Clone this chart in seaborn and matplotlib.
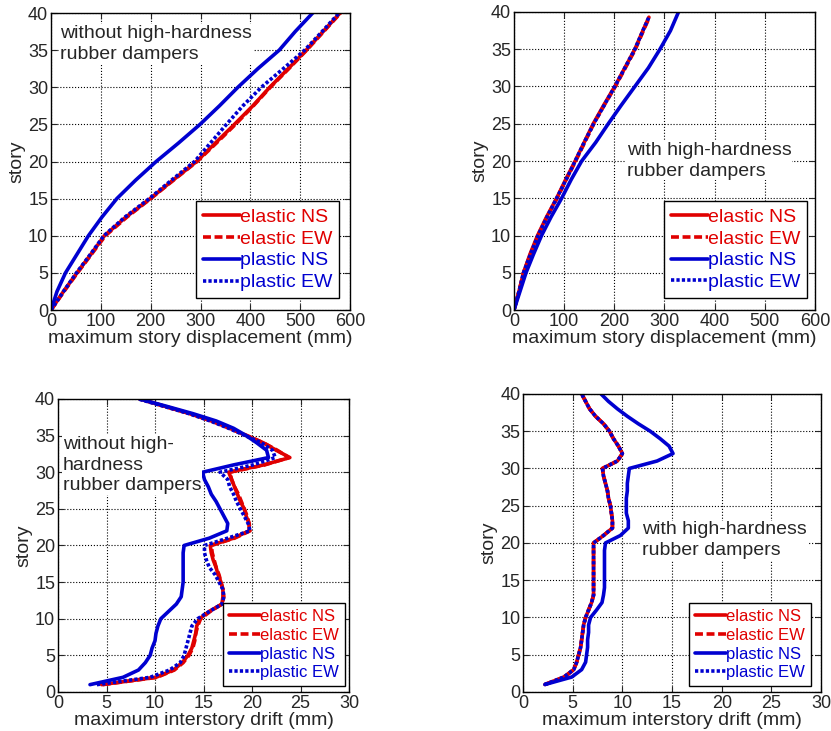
import numpy as np
import pandas as pd
import matplotlib
matplotlib.use("Agg")
import matplotlib.pyplot as plt
import seaborn as sns

sns.set_style("ticks")
plt.rcParams['font.family'] = ['Liberation Sans', 'DejaVu Sans']

# ---- maximum story displacement (mm) ----
disp_story = [0, 2.5, 5, 7.5, 10, 12.5, 15, 17.5, 20, 22.5, 25, 27.5, 30, 32.5, 35, 37.5, 40]

# without dampers
wo_disp_el_ns = [0, 25, 52, 80, 107, 150, 199, 245, 292, 330, 368, 405, 439, 476, 512, 546, 580]
wo_disp_el_ew = [0, 26, 53, 81, 109, 152, 200, 246, 293, 332, 370, 406, 440, 477, 513, 547, 581]
wo_disp_pl_ns = [0, 12, 29, 52, 75, 102, 132, 170, 211, 256, 299, 338, 375, 415, 458, 490, 525]
wo_disp_pl_ew = [0, 25, 51, 79, 106, 148, 197, 242, 288, 320, 352, 385, 422, 466, 509, 544, 578]

# with dampers (elastic / EW curves stop just below story 40)
w_disp_story_el = [0, 2.5, 5, 7.5, 10, 12.5, 15, 17.5, 20, 22.5, 25, 27.5, 30, 32.5, 35, 37.5, 39.3]
w_disp_el_ns = [0, 10, 19, 32, 47, 65, 85, 103, 122, 140, 158, 179, 201, 221, 241, 257, 269]
w_disp_el_ew = [0, 10, 19, 33, 48, 66, 86, 104, 123, 141, 159, 180, 202, 222, 242, 258, 270]
w_disp_pl_ns = [0, 12, 24, 39, 55, 74, 95, 114, 135, 163, 188, 214, 241, 268, 291, 312, 328]
w_disp_pl_ew = [0, 10, 19, 33, 48, 66, 85, 104, 122, 140, 159, 180, 201, 221, 241, 257, 269]

# ---- maximum interstory drift (mm) ----
drift_story = list(range(1, 41))

wo_drift_el_ns = [4.5, 10.1, 11.9, 12.8, 13.4, 13.8, 14.0, 14.2, 14.3, 14.6,
                  15.6, 16.9, 17.0, 17.0, 16.8, 16.5, 16.3, 16.0, 15.8, 15.7,
                  18.1, 19.7, 19.7, 19.4, 19.2, 18.8, 18.5, 18.2, 17.9, 17.6,
                  21.2, 23.9, 22.5, 21.2, 19.4, 17.7, 15.8, 13.6, 11.0, 8.4]
wo_drift_el_ew = [4.6, 10.2, 12.0, 12.9, 13.5, 13.9, 14.1, 14.2, 14.4, 14.7,
                  15.7, 16.9, 17.1, 17.0, 16.8, 16.6, 16.3, 16.1, 15.9, 15.8,
                  18.2, 19.8, 19.7, 19.5, 19.2, 18.9, 18.6, 18.2, 17.9, 17.7,
                  21.3, 23.8, 22.6, 21.2, 19.5, 17.7, 15.9, 13.6, 11.0, 8.5]
wo_drift_pl_ns = [3.3, 6.7, 8.3, 9.0, 9.5, 9.7, 10.0, 10.1, 10.3, 10.6,
                  11.4, 12.2, 12.7, 12.8, 12.9, 12.9, 12.9, 12.9, 12.9, 13.0,
                  15.6, 17.4, 17.5, 17.1, 16.7, 16.3, 15.8, 15.5, 15.1, 14.9,
                  18.1, 21.7, 21.5, 20.5, 19.4, 18.1, 16.3, 13.9, 11.2, 8.4]
wo_drift_pl_ew = [4.0, 9.5, 11.5, 12.6, 13.0, 13.2, 13.4, 13.6, 13.8, 14.4,
                  15.6, 16.9, 17.1, 17.0, 16.6, 16.2, 15.6, 15.3, 15.1, 15.1,
                  17.5, 19.8, 19.6, 19.2, 18.8, 18.4, 18.1, 17.7, 17.5, 16.7,
                  20.1, 22.4, 22.1, 21.0, 19.3, 17.6, 15.7, 13.5, 10.9, 8.3]

w_drift_el_ns = [2.2, 4.1, 5.1, 5.4, 5.6, 5.8, 5.9, 6.0, 6.1, 6.3,
                 6.6, 6.9, 7.1, 7.1, 7.1, 7.1, 7.1, 7.1, 7.1, 7.1,
                 8.1, 9.0, 9.0, 8.9, 8.8, 8.6, 8.5, 8.3, 8.1, 8.0,
                 9.5, 10.0, 9.6, 9.1, 8.7, 8.1, 7.3, 6.7, 6.3, 5.9]
w_drift_el_ew = [2.2, 4.2, 5.1, 5.4, 5.6, 5.8, 5.9, 6.0, 6.1, 6.3,
                 6.6, 6.9, 7.1, 7.1, 7.1, 7.1, 7.1, 7.1, 7.1, 7.1,
                 8.1, 9.0, 9.0, 8.9, 8.8, 8.6, 8.5, 8.3, 8.1, 8.0,
                 9.5, 10.0, 9.6, 9.1, 8.7, 8.1, 7.3, 6.7, 6.3, 5.9]
w_drift_pl_ns = [2.2, 4.9, 5.9, 6.3, 6.4, 6.5, 6.5, 6.6, 6.6, 6.8,
                 7.4, 7.95, 8.1, 8.2, 8.2, 8.2, 8.2, 8.2, 8.2, 8.3,
                 9.8, 10.6, 10.6, 10.4, 10.4, 10.4, 10.5, 10.5, 10.6, 10.7,
                 13.5, 15.1, 14.7, 13.8, 12.8, 11.6, 10.5, 9.5, 8.6, 7.85]
w_drift_pl_ew = [2.2, 4.1, 5.1, 5.4, 5.6, 5.8, 5.9, 6.0, 6.1, 6.3,
                 6.6, 6.9, 7.1, 7.1, 7.1, 7.1, 7.1, 7.1, 7.1, 7.1,
                 8.1, 9.0, 9.0, 8.9, 8.8, 8.6, 8.5, 8.3, 8.1, 8.0,
                 9.5, 10.0, 9.6, 9.1, 8.7, 8.1, 7.3, 6.7, 6.3, 5.9]

series_labels = ["elastic NS", "elastic EW", "plastic NS", "plastic EW"]
RED = "#e00000"
BLUE = "#0000d0"
styles = [dict(color=RED, ls="-"), dict(color=RED, ls=(0, (2.2, 1.0))),
          dict(color=BLUE, ls="-"), dict(color=BLUE, ls=(0, (0.9, 0.6)))]

fig = plt.figure(figsize=(8.31, 7.31), dpi=100)
positions = [
    [0.0614, 0.5759, 0.3598, 0.4063],
    [0.6185, 0.5759, 0.3622, 0.4077],
    [0.0698, 0.0534, 0.3502, 0.4008],
    [0.6294, 0.0534, 0.3586, 0.4077],
]

panels = [
    dict(xs=[wo_disp_el_ns, wo_disp_el_ew, wo_disp_pl_ns, wo_disp_pl_ew],
         ys=[disp_story] * 4, xlim=600, xstep=100,
         xlabel="maximum story displacement (mm)",
         note="without high-hardness\nrubber dampers", note_xy=(0.03, 0.96),
         leg=(0.963, 0.04), leg_fs=14),
    dict(xs=[w_disp_el_ns, w_disp_el_ew, w_disp_pl_ns, w_disp_pl_ew],
         ys=[w_disp_story_el, w_disp_story_el, disp_story, w_disp_story_el],
         xlim=600, xstep=100,
         xlabel="maximum story displacement (mm)",
         note="with high-hardness\nrubber dampers", note_xy=(0.375, 0.565),
         leg=(0.973, 0.04), leg_fs=14),
    dict(xs=[wo_drift_el_ns, wo_drift_el_ew, wo_drift_pl_ns, wo_drift_pl_ew],
         ys=[drift_story] * 4, xlim=30, xstep=5,
         xlabel="maximum interstory drift (mm)",
         note="without high-\nhardness\nrubber dampers", note_xy=(0.017, 0.875),
         leg=(0.986, 0.02), leg_fs=12),
    dict(xs=[w_drift_el_ns, w_drift_el_ew, w_drift_pl_ns, w_drift_pl_ew],
         ys=[drift_story] * 4, xlim=30, xstep=5,
         xlabel="maximum interstory drift (mm)",
         note="with high-hardness\nrubber dampers", note_xy=(0.40, 0.572),
         leg=(0.966, 0.02), leg_fs=12),
]

for pos, p in zip(positions, panels):
    ax = fig.add_axes(pos)
    for lab, x, y, st in zip(series_labels, p["xs"], p["ys"], styles):
        df = pd.DataFrame({"x": x, "story": y})
        sns.lineplot(data=df, x="x", y="story", sort=False, estimator=None,
                     color=st["color"], linestyle=st["ls"], linewidth=2.6,
                     label=lab, ax=ax)
    ax.set_xlim(0, p["xlim"])
    ax.set_ylim(0, 40)
    ax.set_xticks(np.arange(0, p["xlim"] + 1, p["xstep"]))
    ax.set_yticks(np.arange(0, 41, 5))
    ax.grid(True, color="black", linestyle=":", linewidth=0.8)
    ax.tick_params(direction="in", top=True, right=True, labelsize=13,
                   length=4, pad=2)
    for s in ax.spines.values():
        s.set_visible(True)
        s.set_linewidth(1.0)
        s.set_color("black")
    ax.set_xlabel(p["xlabel"], fontsize=14, labelpad=0)
    ax.set_ylabel("story", fontsize=14, labelpad=2)
    ax.text(p["note_xy"][0], p["note_xy"][1], p["note"], transform=ax.transAxes,
            fontsize=14, va="top", ha="left", linespacing=1.3,
            bbox=dict(facecolor="white", edgecolor="none", pad=0.5))
    leg = ax.legend(loc="lower right", bbox_to_anchor=p["leg"],
                    fontsize=p["leg_fs"], frameon=True, fancybox=False,
                    edgecolor="black", framealpha=1, borderaxespad=0,
                    handlelength=1.9, handletextpad=0.0, labelspacing=0.22,
                    borderpad=0.35, labelcolor="linecolor")
    leg.get_frame().set_linewidth(1.0)

fig.savefig("out.png", dpi=100)
